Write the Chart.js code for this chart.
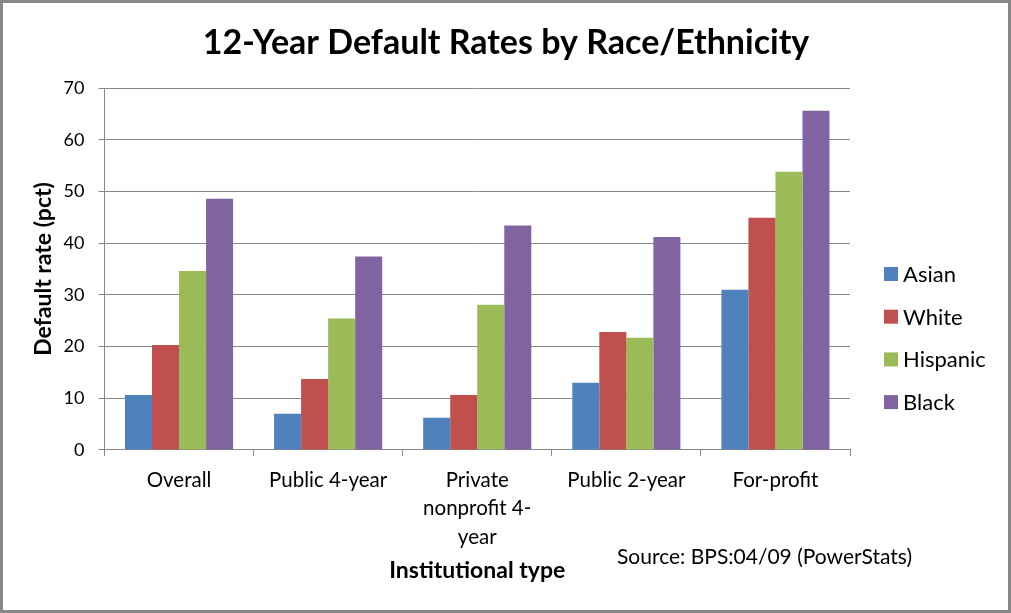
<!DOCTYPE html>
<html>
<head>
<meta charset="utf-8">
<script src="https://cdn.jsdelivr.net/npm/chart.js@4/dist/chart.umd.min.js"></script>
<style>
  html, body { margin: 0; padding: 0; background: #fff; }
  #wrap { width: 1011px; height: 613px; }
</style>
</head>
<body>
<div id="wrap"><canvas id="canva"></canvas></div>
<script>
const categories = ["Overall", "Public 4-year", ["Private", "nonprofit 4-", "year"], "Public 2-year", "For-profit"];
const asian = [10.6, 7.0, 6.2, 13.0, 31.0];
const white = [20.3, 13.7, 10.6, 22.8, 44.9];
const hispanic = [34.6, 25.4, 28.1, 21.7, 53.8];
const black = [48.6, 37.4, 43.4, 41.2, 65.6];

const fontName = "Lato, 'Open Sans', sans-serif";

// frame, title, legend on the right, source note
const extras = {
  id: "extras",
  afterDraw(chart) {
    const ctx = chart.ctx;
    ctx.save();
    ctx.strokeStyle = "#888";
    ctx.lineWidth = 3;
    ctx.strokeRect(1.5, 1.5, chart.width - 3, chart.height - 3);

    ctx.fillStyle = "#000";
    ctx.textBaseline = "middle";
    ctx.textAlign = "center";
    ctx.font = "bold 34px " + fontName;
    ctx.fillText("12-Year Default Rates by Race/Ethnicity", 506, 43);

    ctx.textAlign = "left";
    ctx.font = "22px " + fontName;
    chart.data.datasets.forEach((ds, i) => {
      const y = 274 + i * 42.7;
      ctx.fillStyle = ds.backgroundColor;
      ctx.fillRect(884, y - 7, 14, 14);
      ctx.fillStyle = "#000";
      ctx.fillText(ds.label, 903, y + 1);
    });

    ctx.font = "21px " + fontName;
    ctx.fillText("Source: BPS:04/09 (PowerStats)", 617, 557);
    ctx.restore();
  },
};

const data = {
  labels: categories,
  datasets: [
    { label: "Asian", data: asian, backgroundColor: "#4f81bd" },
    { label: "White", data: white, backgroundColor: "#c0504d" },
    { label: "Hispanic", data: hispanic, backgroundColor: "#9bbb59" },
    { label: "Black", data: black, backgroundColor: "#8064a2" },
  ],
};

const config = {
  type: "bar",
  data: data,
  plugins: [extras],
  options: {
    responsive: true,
    maintainAspectRatio: false,
    animation: false,
    layout: { padding: { left: 26, right: 161, top: 88, bottom: 4 } },
    datasets: { bar: { categoryPercentage: 0.725, barPercentage: 1.0 } },
    plugins: {
      legend: { display: false },
      tooltip: { enabled: false },
    },
    scales: {
      x: {
        grid: { drawOnChartArea: false, drawTicks: true, tickLength: 6, color: "#888" },
        border: { color: "#888" },
        ticks: {
          color: "#000",
          font: { family: fontName, size: 20.5, lineHeight: 1.39 },
          maxRotation: 0,
          autoSkip: false,
          padding: 10,
        },
        title: {
          display: true,
          text: "Institutional type",
          color: "#000",
          font: { family: fontName, size: 23, weight: "bold" },
          padding: { top: -5, bottom: 25 },
        },
      },
      y: {
        min: 0,
        max: 70,
        ticks: { stepSize: 10, color: "#000", font: { family: fontName, size: 18 }, padding: 14 },
        grid: { color: "#888", tickLength: 6 },
        border: { color: "#888" },
        title: {
          display: true,
          text: "Default rate (pct)",
          color: "#000",
          font: { family: fontName, size: 23, weight: "bold" },
          padding: { top: 4, bottom: -8 },
        },
      },
    },
  },
};
const myChart = new Chart(document.getElementById("canva"), config);
</script>
</body>
</html>
